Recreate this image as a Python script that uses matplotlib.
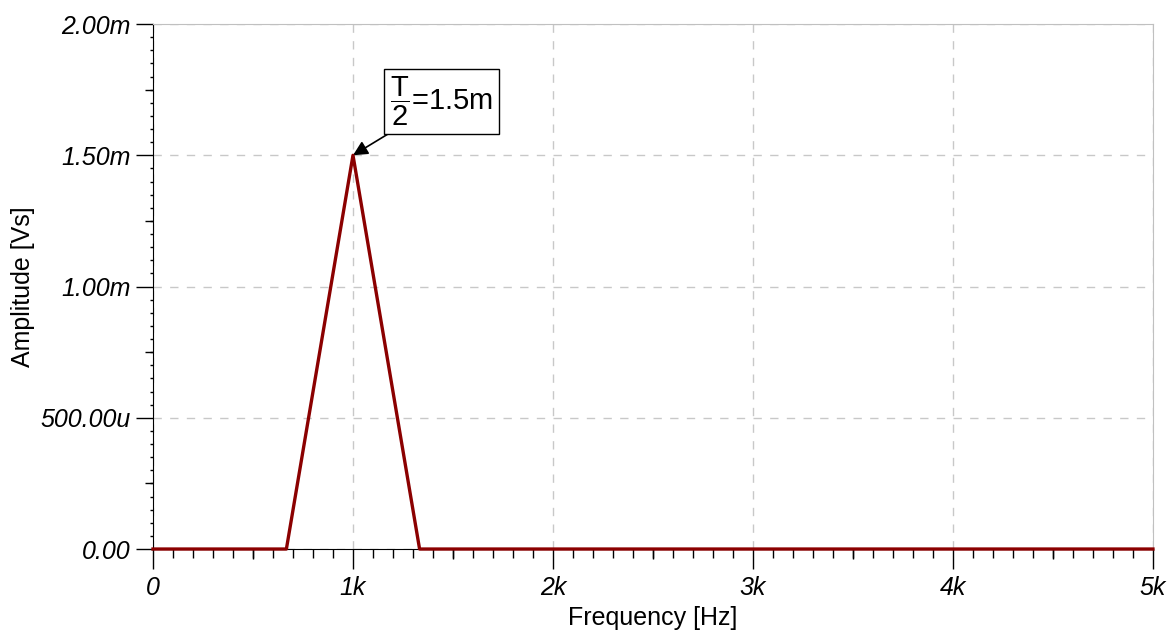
import matplotlib
matplotlib.use('Agg')
import matplotlib.pyplot as plt
import numpy as np

# spectrum data (Hz, Vs)
freq = [0, 667, 1000, 1333, 5000]
amp = [0, 0, 1.5e-3, 0, 0]

xticks = [0, 1000, 2000, 3000, 4000, 5000]
xlabels = ['0', '1k', '2k', '3k', '4k', '5k']
yticks = [0, 0.5e-3, 1.0e-3, 1.5e-3, 2.0e-3]
ylabels = ['0.00', '500.00u', '1.00m', '1.50m', '2.00m']

plt.rcParams['font.family'] = ['Liberation Sans', 'DejaVu Sans']
plt.rcParams['mathtext.fontset'] = 'custom'
plt.rcParams['mathtext.rm'] = 'Liberation Sans'
plt.rcParams['mathtext.it'] = 'Liberation Sans:italic'

fig = plt.figure(figsize=(11.76, 6.39), dpi=100)
ax = fig.add_axes([0.1301, 0.1408, 0.8503, 0.8216])

ax.plot(freq, amp, color='#8b0000', lw=2.4, clip_on=False, zorder=5)

ax.set_xlim(0, 5000)
ax.set_ylim(0, 2.0e-3)
ax.set_xticks(xticks)
ax.set_xticklabels(xlabels, fontsize=18, style='italic')
ax.set_yticks(yticks)
ax.set_yticklabels(ylabels, fontsize=18, style='italic')
ax.set_xticks(np.arange(0, 5001, 100), minor=True)
ax.set_yticks(np.arange(0, 2.0e-3 + 1e-9, 0.05e-3), minor=True)

ax.tick_params(axis='x', which='major', length=14.5, width=1, pad=5)
ax.tick_params(axis='x', which='minor', length=6.5, width=1)
ax.tick_params(axis='y', which='major', length=12, width=1, pad=4)
ax.tick_params(axis='y', which='minor', length=2.5, width=1)

# medium ticks
sx = ax.secondary_xaxis('bottom')
sx.set_xticks(np.arange(500, 5000, 1000))
sx.set_xticklabels([])
sx.tick_params(length=7.5, width=1)
sx.spines['bottom'].set_visible(False)
sy = ax.secondary_yaxis('left')
sy.set_yticks(np.arange(0.25e-3, 2.0e-3, 0.5e-3))
sy.set_yticklabels([])
sy.tick_params(length=6, width=1)
sy.spines['left'].set_visible(False)

ax.grid(True, which='major', color='#c8c8c8', ls=(0, (6, 6)), lw=1)
ax.spines['top'].set_color('#c0c0c0')
ax.spines['right'].set_color('#c0c0c0')

ax.set_xlabel('Frequency [Hz]', fontsize=18, labelpad=4)
ax.set_ylabel('Amplitude [Vs]', fontsize=18, labelpad=6)
ax.yaxis.set_label_coords(-0.118, 0.5)

ax.annotate(r'$\dfrac{\mathrm{T}}{\mathrm{2}}$=1.5m', xy=(1000, 1.5e-3), xytext=(1185, 1.705e-3),
            fontsize=21, va='center', ha='left',
            bbox=dict(boxstyle='square,pad=0.2', fc='white', ec='black', lw=1),
            arrowprops=dict(arrowstyle='-|>', color='black', lw=1.2, mutation_scale=22,
                            shrinkA=0, shrinkB=0))

fig.savefig('out.png', dpi=100)
